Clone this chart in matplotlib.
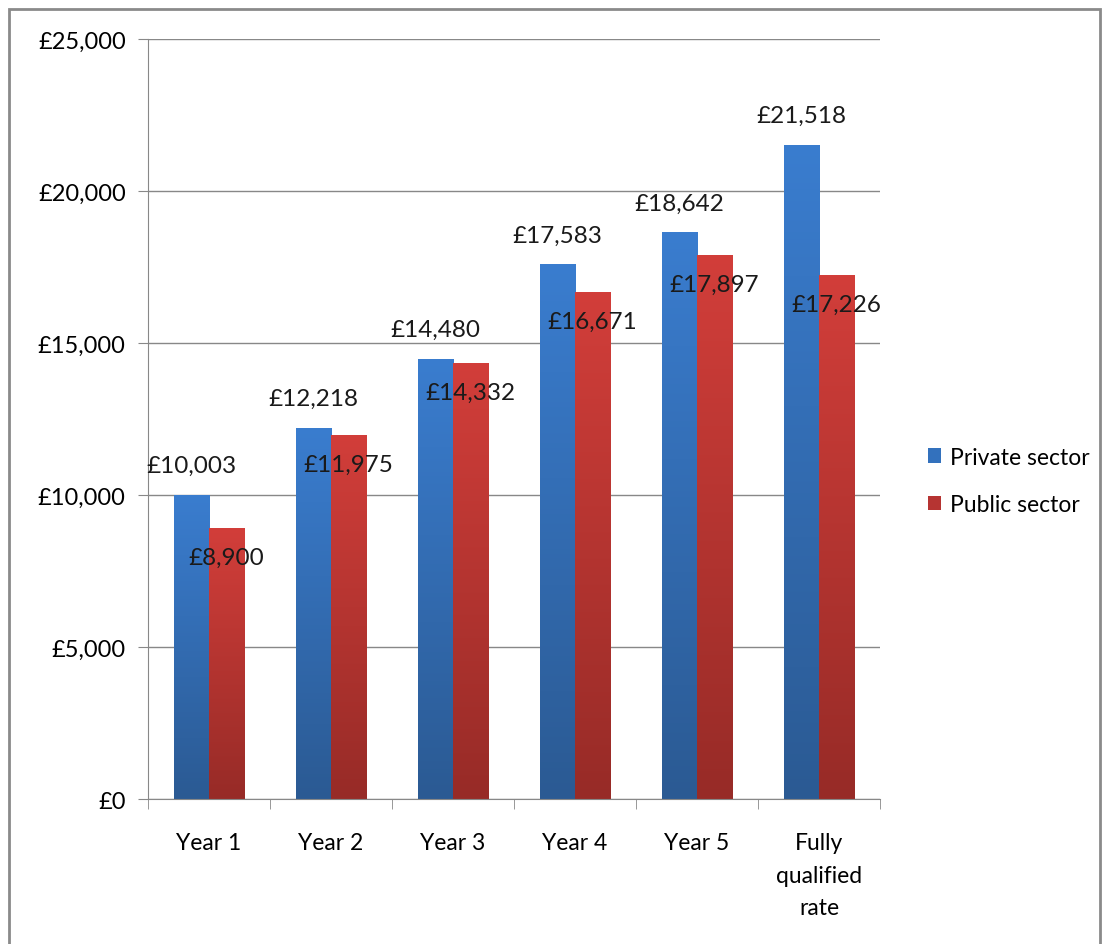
import numpy as np
import matplotlib.pyplot as plt
from matplotlib.colors import LinearSegmentedColormap
from matplotlib.patches import Rectangle
from matplotlib.ticker import FixedLocator, FuncFormatter

plt.rcParams['font.family'] = ['Lato', 'DejaVu Sans']

categories = ['Year 1', 'Year 2', 'Year 3', 'Year 4', 'Year 5', 'Fully\nqualified\nrate']
private = [10003, 12218, 14480, 17583, 18642, 21518]
public = [8900, 11975, 14332, 16671, 17897, 17226]

fig = plt.figure(figsize=(11.06, 9.45), dpi=100)
ax = fig.add_axes([0.1338, 0.1534, 0.6619, 0.8043])

x = np.arange(len(categories))
w = 0.287

blue_cmap = LinearSegmentedColormap.from_list('b', ['#2b5a93', '#3a7dcf'])
red_cmap = LinearSegmentedColormap.from_list('r', ['#972b27', '#d23e3a'])

b1 = ax.bar(x - w / 2, private, w, color='#3a7bcc', label='Private sector', zorder=2)
b2 = ax.bar(x + w / 2, public, w, color='#c9393a', label='Public sector', zorder=2)

# vertical shading inside each bar
grad = np.linspace(0, 1, 256).reshape(-1, 1)
for bars, cm in ((b1, blue_cmap), (b2, red_cmap)):
    for r in bars:
        x0, y0 = r.get_x(), r.get_y()
        im = ax.imshow(grad, cmap=cm, origin='lower', aspect='auto',
                       extent=[x0, x0 + r.get_width(), y0, y0 + r.get_height()], zorder=2.1)
        im.set_clip_path(r)

for i in range(len(categories)):
    ax.annotate('£{:,}'.format(private[i]), (x[i] - w / 2, private[i]), xytext=(0, 21),
                textcoords='offset points', ha='center', va='center', fontsize=17.5, color='#1a1a1a', zorder=3)
    ax.annotate('£{:,}'.format(public[i]), (x[i] + w / 2, public[i]), xytext=(0, -21),
                textcoords='offset points', ha='center', va='center', fontsize=17.5, color='#1a1a1a', zorder=3)

ax.set_xlim(-0.5, len(categories) - 0.5)
ax.set_ylim(0, 25000)
ax.set_yticks(range(0, 25001, 5000))
ax.yaxis.set_major_formatter(FuncFormatter(lambda v, p: '£{:,}'.format(int(v))))
ax.yaxis.grid(True, color='#888888', linewidth=1)
ax.set_axisbelow(True)

ax.set_xticks(x)
ax.set_xticklabels(categories, fontsize=16.5, linespacing=1.66)
ax.xaxis.set_minor_locator(FixedLocator(np.arange(-0.5, len(categories), 1)))
ax.tick_params(axis='x', which='major', length=0, pad=24)
ax.tick_params(axis='x', which='minor', length=7, color='#888888', direction='out')
ax.tick_params(axis='y', length=7, color='#888888', labelsize=17, pad=9)

for s in ('top', 'right'):
    ax.spines[s].set_visible(False)
for s in ('left', 'bottom'):
    ax.spines[s].set_color('#888888')

handles = [Rectangle((0, 0), 1, 1, facecolor='#3371bd'), Rectangle((0, 0), 1, 1, facecolor='#b63432')]
fig.legend(handles, ['Private sector', 'Public sector'], loc='center left',
           bbox_to_anchor=(0.82, 0.49), frameon=False, fontsize=16.5,
           handlelength=0.6, handleheight=0.6, handletextpad=0.4, labelspacing=1.15)

fig.patches.append(Rectangle((0.008, -0.02), 0.987, 1.009, transform=fig.transFigure,
                             fill=False, edgecolor='#8a8a8a', linewidth=2))

fig.savefig('out.png', dpi=100)
